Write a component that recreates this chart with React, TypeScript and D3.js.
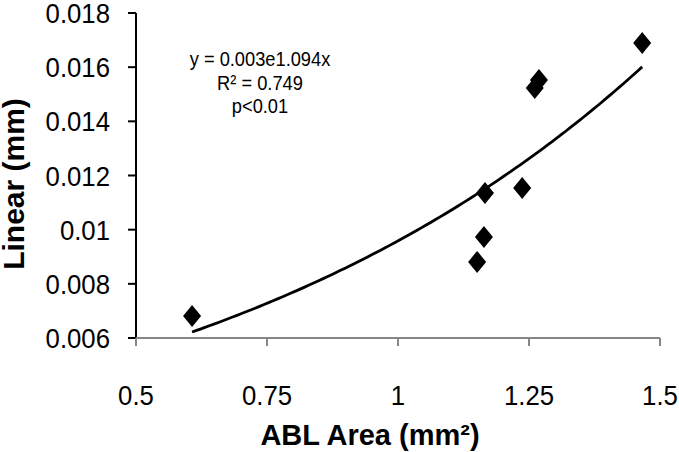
import React from "react";
import * as d3 from "d3";

const ablArea = [0.607, 1.151, 1.164, 1.166, 1.237, 1.261, 1.269, 1.466];
const linear = [0.00681, 0.00881, 0.00973, 0.01135, 0.01154, 0.01523, 0.01553, 0.01689];
const xTicks = [0.5, 0.75, 1, 1.25, 1.5];
const xTickLabels = ["0.5", "0.75", "1", "1.25", "1.5"];
const yTicks = [0.006, 0.008, 0.01, 0.012, 0.014, 0.016, 0.018];
const yTickLabels = ["0.006", "0.008", "0.01", "0.012", "0.014", "0.016", "0.018"];
const annotation = ["y = 0.003e1.094x", "R\u00B2 = 0.749", "p<0.01"];
const xTitle = "ABL Area (mm\u00B2)";
const yTitle = "Linear (mm)";

const W = 679, H = 452;
const left = 136, right = 660, top = 13, bottom = 338;
const FONT = "'Liberation Sans', Arial, sans-serif";

export default function App() {
  const x = d3.scaleLinear().domain([0.5, 1.5]).range([left, right]);
  const y = d3.scaleLinear().domain([0.006, 0.018]).range([bottom, top]);

  // exponential least-squares fit on ln(y)
  const lny = linear.map((v) => Math.log(v));
  const mx = d3.mean(ablArea) as number;
  const my = d3.mean(lny) as number;
  let sxy = 0, sxx = 0;
  ablArea.forEach((v, i) => { sxy += (v - mx) * (lny[i] - my); sxx += (v - mx) * (v - mx); });
  const b = sxy / sxx;
  const a = Math.exp(my - b * mx);
  const [xmin, xmax] = d3.extent(ablArea) as [number, number];
  const fitPts = d3.range(0, 101).map((i) => {
    const xv = xmin + (xmax - xmin) * (i / 100);
    return [xv, a * Math.exp(b * xv)] as [number, number];
  });
  const line = d3.line<[number, number]>().x((d) => x(d[0])).y((d) => y(d[1]));

  const diamond = (cx: number, cy: number) =>
    `M${cx},${cy - 11}L${cx + 9},${cy}L${cx},${cy + 11}L${cx - 9},${cy}Z`;

  return (
    <svg width={W} height={H} style={{ position: "absolute", left: 0, top: 0, background: "#fff" }} fontFamily={FONT}>
      <rect width={W} height={H} fill="#fff" />
      {/* y axis */}
      <line x1={left} x2={left} y1={top} y2={bottom} stroke="#000" strokeWidth={2} />
      {yTicks.map((t, i) => (
        <g key={"y" + i}>
          <line x1={left - 8} x2={left} y1={y(t)} y2={y(t)} stroke="#000" strokeWidth={2} />
          <g transform={`translate(${110},${y(t) + 10}) scale(0.92,1)`}>
            <text textAnchor="end" fontSize={28} fill="#000">{yTickLabels[i]}</text>
          </g>
        </g>
      ))}
      {/* x axis */}
      <line x1={left} x2={right} y1={bottom} y2={bottom} stroke="#868686" strokeWidth={2} />
      {xTicks.map((t, i) => (
        <g key={"x" + i}>
          <line x1={x(t)} x2={x(t)} y1={bottom} y2={bottom + 8} stroke="#868686" strokeWidth={2} />
          <g transform={`translate(${x(t)},${405}) scale(0.92,1)`}>
            <text textAnchor="middle" fontSize={28} fill="#000">{xTickLabels[i]}</text>
          </g>
        </g>
      ))}
      {/* titles */}
      <text x={370} y={445} textAnchor="middle" fontSize={29} fontWeight="bold" fill="#000">{xTitle}</text>
      <text transform={`translate(24,184) rotate(-90)`} textAnchor="middle" fontSize={30} fontWeight="bold" fill="#000">{yTitle}</text>
      {/* trendline */}
      <path d={line(fitPts) || ""} fill="none" stroke="#000" strokeWidth={2.8} />
      {/* points */}
      {ablArea.map((v, i) => (
        <path key={"p" + i} d={diamond(x(v), y(linear[i]))} fill="#000" />
      ))}
      {/* annotation */}
      {annotation.map((s, i) => (
        <g key={"a" + i} transform={`translate(${260},${66 + i * 23.5}) scale(0.87,1)`}>
          <text textAnchor="middle" fontSize={21} fill="#000">{s}</text>
        </g>
      ))}
    </svg>
  );
}
